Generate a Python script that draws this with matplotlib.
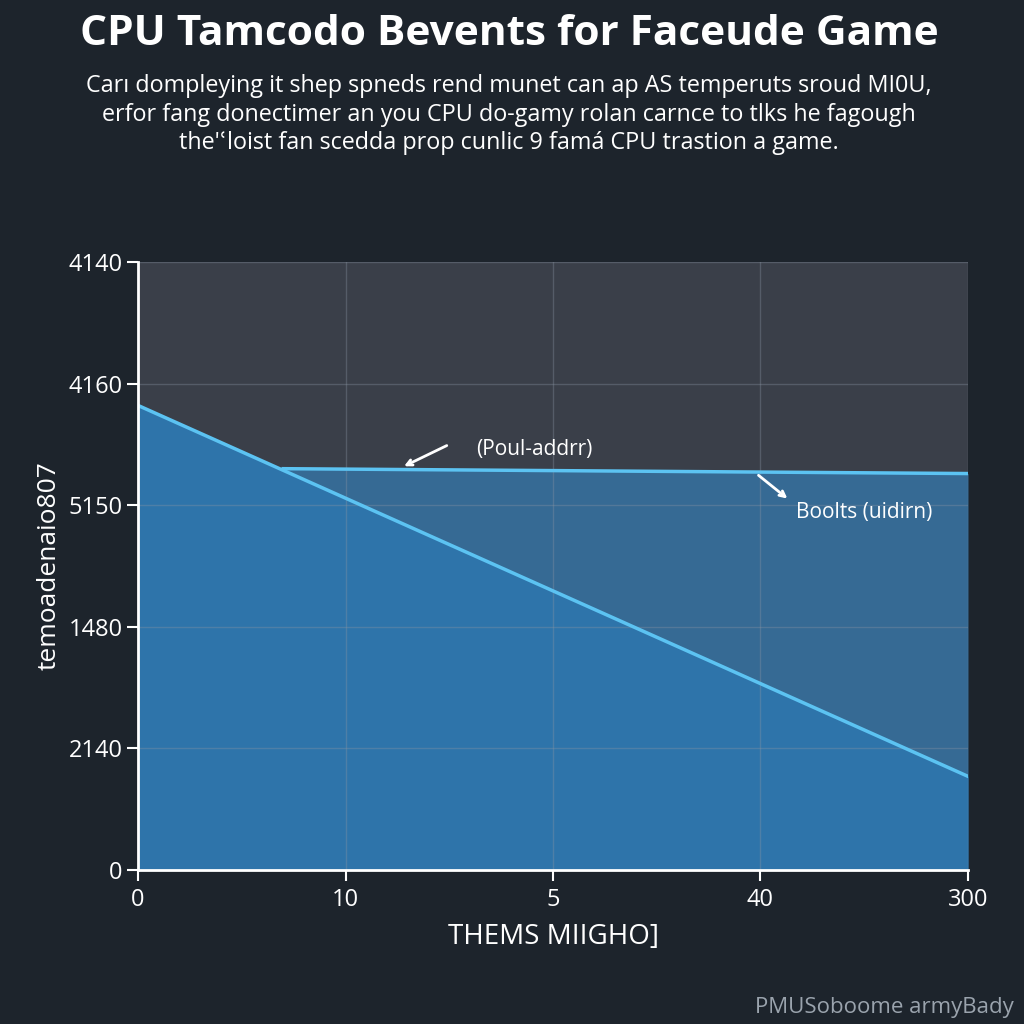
import matplotlib
matplotlib.use("Agg")
import matplotlib.pyplot as plt
import numpy as np

# ---- data ----
x_tick_labels = ["0", "10", "5", "40", "300"]
y_tick_labels = ["0", "2140", "1480", "5150", "4160", "4140"]
line1_x = [0.0, 4.0]
line1_y = [3.82, 0.77]
line2_x = [0.70, 4.0]
line2_y = [3.30, 3.26]

title = "CPU Tamcodo Bevents for Faceude Game"
subtitle = ("Carı dompleying it shep spneds rend munet can ap AS temperuts sroud MI0U,\n"
            "erfor fang donectimer an you CPU do-gamy rolan carnce to tlks he fagough\n"
            "the'ʿloist fan scedda prop cunlic 9 famá CPU trastion a game.")
xlabel = "THEMS MIIGHO]"
ylabel = "temoadenaio807"
ann1 = "(Poul-addrr)"
ann2 = "Boolts (uidirn)"
footer = "PMUSoboome armyBady"

BG = "#1d242c"
AX_BG = "#3a3f49"
LINE = "#5cc3f2"
FILL1 = "#2e74aa"
FILL2 = "#366a94"

plt.rcParams['font.family'] = ['Open Sans', 'DejaVu Sans']

fig = plt.figure(figsize=(10.24, 10.24), dpi=100, facecolor=BG)
ax = fig.add_axes([0.1348, 0.1504, 0.8105, 0.5938])
ax.set_facecolor(AX_BG)

ax.set_xlim(0, 4)
ax.set_ylim(0, 5)

# fills
ax.fill_between(line2_x, line2_y, 0, color=FILL2, zorder=1, linewidth=0)
ax.fill_between(line1_x, line1_y, 0, color=FILL1, zorder=2, linewidth=0)

ax.plot(line2_x, line2_y, color=LINE, lw=2.5, zorder=4)
ax.plot(line1_x, line1_y, color=LINE, lw=2.5, zorder=4)

ax.set_xticks(range(len(x_tick_labels)))
ax.set_xticklabels(x_tick_labels)
ax.set_yticks(range(len(y_tick_labels)))
ax.set_yticklabels(y_tick_labels)

ax.grid(True, color="#8a95a3", alpha=0.35, lw=1, zorder=3)
ax.set_axisbelow(False)
for s in ["top", "right"]:
    ax.spines[s].set_visible(False)
for s in ["left", "bottom"]:
    ax.spines[s].set_color("white")
    ax.spines[s].set_linewidth(2)
    ax.spines[s].set_zorder(5)
ax.tick_params(colors="white", labelsize=17, length=8, width=1.5, pad=3)
ax.tick_params(axis='x', pad=5)

ax.set_xlabel(xlabel, color="white", fontsize=20, labelpad=8)
ax.set_ylabel(ylabel, color="white", fontsize=19, labelpad=5)

ax.annotate("", xy=(1.27, 3.31), xytext=(1.50, 3.50),
            arrowprops=dict(arrowstyle="->", color="white", lw=2), zorder=6)
ax.text(1.91, 3.46, ann1, color="white", fontsize=15, ha="center", va="center", zorder=6)
ax.annotate("", xy=(3.14, 3.04), xytext=(2.98, 3.26),
            arrowprops=dict(arrowstyle="->", color="white", lw=2), zorder=6)
ax.text(3.50, 2.94, ann2, color="white", fontsize=15, ha="center", va="center", zorder=6)

fig.text(0.497, 0.966, title, color="white", fontsize=30.5, fontweight="bold",
         ha="center", va="center")
fig.text(0.497, 0.888, subtitle, color="white", fontsize=16.8, ha="center", va="center",
         linespacing=1.25)
fig.text(0.99, 0.016, footer, color="#9aa3ad", fontsize=16, ha="right", va="center")

fig.savefig("out.png", dpi=100, facecolor=BG)
